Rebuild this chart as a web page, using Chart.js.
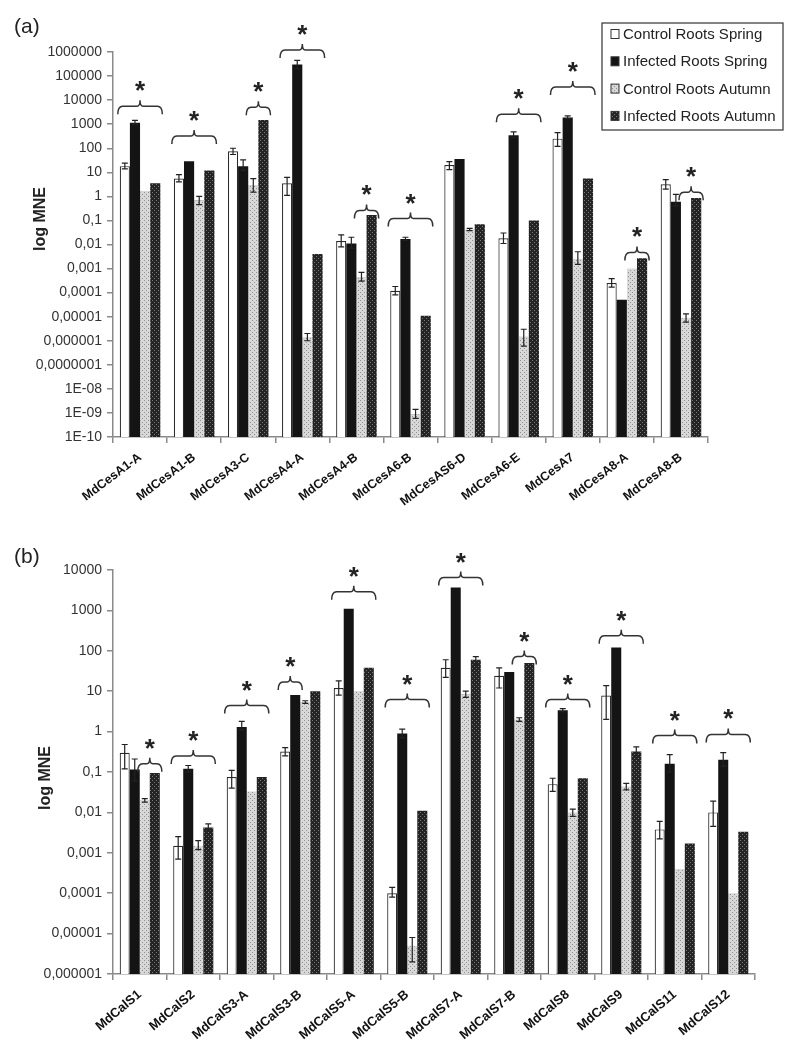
<!DOCTYPE html>
<html>
<head>
<meta charset="utf-8">
<script src="https://cdn.jsdelivr.net/npm/chart.js@4.4.1/dist/chart.umd.min.js"></script>
<style>
  body { margin: 0; background: #fff; }
  #wrap { position: relative; width: 800px; height: 1063px; }
  canvas { position: absolute; left: 0; }
</style>
</head>
<body>
<div id="wrap">
  <canvas id="chartA" width="800" height="540" style="top:0"></canvas>
  <canvas id="chartB" width="800" height="523" style="top:540px"></canvas>
</div>
<script>
// series names (same for both panels)
const seriesNames = ['Control Roots Spring', 'Infected Roots Spring', 'Control Roots Autumn', 'Infected Roots Autumn'];

// (a) cellulose synthases
const casLabels = ['MdCesA1-A', 'MdCesA1-B', 'MdCesA3-C', 'MdCesA4-A', 'MdCesA4-B', 'MdCesA6-B', 'MdCesAS6-D', 'MdCesA6-E', 'MdCesA7', 'MdCesA8-A', 'MdCesA8-B'];
const casCtrlSpring = [18, 5.5, 75, 3.5, 0.014, 0.00012, 20, 0.018, 250, 0.00025, 3.2];
const casInfSpring = [1150, 29, 18, 300000, 0.011, 0.017, 36, 350, 1900, 0.00005, 0.6];
const casCtrlAutumn = [1.7, 0.7, 3, 1.4e-6, 0.00045, 9e-10, 0.042, 1.5e-6, 0.0025, 0.001, 9e-6];
const casInfAutumn = [3.5, 12, 1500, 0.004, 0.17, 1.1e-5, 0.07, 0.1, 5.5, 0.0027, 0.85];
// error bars as [low, high], null = none visible
const casCtrlSpringErr = [[14, 24], [4, 8], [55, 100], [1.1, 6.2], [0.008, 0.025], [0.00008, 0.00018], [13, 28], [0.011, 0.03], [120, 450], [0.00017, 0.00038], [2, 5]];
const casInfSpringErr = [[1000, 1450], null, [12, 33], [200000, 450000], [0.007, 0.02], [0.015, 0.02], null, [280, 480], [1700, 2200], null, [0.4, 1.2]];
const casCtrlAutumnErr = [null, [0.45, 1.0], [1.5, 5.5], [1e-6, 2e-6], [0.0003, 0.0007], [6e-10, 1.4e-9], [0.038, 0.047], [6e-7, 3e-6], [0.0015, 0.005], null, [6e-6, 1.3e-5]];
const casInfAutumnErr = [null, null, null, null, null, null, null, null, null, null, null];
// significance brackets: [category, first bar, last bar, height]
const casBrackets = [[0, 0, 3, 5500], [1, 0, 3, 320], [2, 2, 3, 5000], [3, 0, 3, 1.2e6], [4, 2, 3, 0.26], [5, 0, 3, 0.12], [7, 0, 3, 2600], [8, 0, 3, 35000], [9, 2, 3, 0.0047], [10, 2, 3, 1.5]];
const casTicks = [1e-10, 1e-9, 1e-8, 1e-7, 1e-6, 1e-5, 1e-4, 1e-3, 1e-2, 1e-1, 1, 10, 100, 1000, 10000, 100000, 1000000];
const casTickLabels = ['1E-10', '1E-09', '1E-08', '0,0000001', '0,000001', '0,00001', '0,0001', '0,001', '0,01', '0,1', '1', '10', '100', '1000', '10000', '100000', '1000000'];

// (b) callose synthases
const calLabels = ['MdCalS1', 'MdCalS2', 'MdCalS3-A', 'MdCalS3-B', 'MdCalS5-A', 'MdCalS5-B', 'MdCalS7-A', 'MdCalS7-B', 'MdCalS8', 'MdCalS9', 'MdCalS11', 'MdCalS12'];
const calCtrlSpring = [0.3, 0.0015, 0.075, 0.32, 12, 0.0001, 38, 24, 0.05, 7.8, 0.0038, 0.01];
const calInfSpring = [0.115, 0.12, 1.3, 8, 1100, 0.9, 3700, 30, 3.4, 120, 0.16, 0.2];
const calCtrlAutumn = [0.02, 0.0015, 0.033, 5.5, 10, 5e-6, 8.5, 2, 0.01, 0.044, 0.0004, 0.0001];
const calInfAutumn = [0.095, 0.0042, 0.075, 10, 38, 0.011, 60, 50, 0.07, 0.32, 0.0017, 0.0033];
const calCtrlSpringErr = [[0.12, 0.48], [0.0007, 0.0025], [0.04, 0.11], [0.25, 0.4], [8, 18], [0.00008, 0.00014], [22, 60], [12, 38], [0.033, 0.07], [2, 13.8], [0.0022, 0.006], [0.0045, 0.019]];
const calInfSpringErr = [[0.06, 0.21], [0.1, 0.145], [1.1, 1.8], null, null, [0.7, 1.15], null, null, [3.1, 3.7], null, [0.1, 0.27], [0.14, 0.3]];
const calCtrlAutumnErr = [[0.018, 0.022], [0.0012, 0.002], null, [5, 5.8], null, [2e-6, 8e-6], [7, 10], [1.8, 2.2], [0.008, 0.012], [0.036, 0.052], null, null];
const calInfAutumnErr = [null, [0.0035, 0.0052], null, null, null, null, [45, 72], null, null, [0.25, 0.42], null, null];
const calBrackets = [[0, 2, 3, 0.16], [1, 0, 3, 0.25], [2, 0, 3, 4.4], [3, 0, 1, 17], [4, 0, 3, 2900], [5, 0, 3, 6.2], [6, 0, 3, 6500], [7, 2, 3, 72], [8, 0, 3, 6.2], [9, 0, 3, 237], [10, 0, 3, 0.8], [11, 0, 3, 0.85]];
const calTicks = [1e-6, 1e-5, 1e-4, 1e-3, 1e-2, 1e-1, 1, 10, 100, 1000, 10000];
const calTickLabels = ['0,000001', '0,00001', '0,0001', '0,001', '0,01', '0,1', '1', '10', '100', '1000', '10000'];

const FONT = "'Liberation Sans', Arial, sans-serif";
const AXIS = '#8a8a8a';
const INK = '#222';

function dotPattern(ctx, bg, fg) {
  const c = document.createElement('canvas');
  c.width = 4; c.height = 4;
  const g = c.getContext('2d');
  g.fillStyle = bg; g.fillRect(0, 0, 4, 4);
  g.fillStyle = fg; g.fillRect(0, 0, 1, 1); g.fillRect(2, 2, 1, 1);
  return ctx.createPattern(c, 'repeat');
}

function makeChart(id, cfg) {
  const ctx = document.getElementById(id).getContext('2d');
  const fills = ['#ffffff', '#141414', dotPattern(ctx, '#d8d8d8', '#8e8e8e'), dotPattern(ctx, '#242424', '#7a7a7a')];
  const borders = ['#2a2a2a', '#141414', '#b0b0b0', '#242424'];

  const extras = {
    id: 'extras',
    afterDatasetsDraw(chart) {
      const c = chart.ctx, y = chart.scales.y;
      c.save();
      c.strokeStyle = INK; c.lineWidth = 1.2;
      cfg.errors.forEach((errs, k) => {
        const bars = chart.getDatasetMeta(k).data;
        errs.forEach((e, i) => {
          if (!e) return;
          const x = bars[i].x, y1 = y.getPixelForValue(e[0]), y2 = y.getPixelForValue(e[1]);
          c.beginPath();
          c.moveTo(x, y1); c.lineTo(x, y2);
          c.moveTo(x - 3, y1); c.lineTo(x + 3, y1);
          c.moveTo(x - 3, y2); c.lineTo(x + 3, y2);
          c.stroke();
        });
      });
      c.restore();
    },
    afterDraw(chart) {
      const c = chart.ctx, y = chart.scales.y;
      c.save();
      // brackets + asterisks
      c.strokeStyle = '#333'; c.lineWidth = 1.5; c.fillStyle = INK;
      cfg.brackets.forEach(([cat, b0, b1, v]) => {
        const first = chart.getDatasetMeta(b0).data[cat], last = chart.getDatasetMeta(b1).data[cat];
        const x1 = first.x - first.width / 2 - 2, x2 = last.x + last.width / 2 + 2;
        const yy = y.getPixelForValue(v), cx = (x1 + x2) / 2;
        c.beginPath();
        c.moveTo(x1, yy + 8);
        c.quadraticCurveTo(x1, yy, x1 + 5, yy);
        c.lineTo(cx - 3, yy);
        c.quadraticCurveTo(cx, yy, cx, yy - 6);
        c.quadraticCurveTo(cx, yy, cx + 3, yy);
        c.lineTo(x2 - 5, yy);
        c.quadraticCurveTo(x2, yy, x2, yy + 8);
        c.stroke();
        c.font = 'bold 26px ' + FONT;
        c.textAlign = 'center'; c.textBaseline = 'alphabetic';
        const m = c.measureText('*');
        const mid = (m.actualBoundingBoxAscent - m.actualBoundingBoxDescent) / 2;
        c.fillText('*', cx, yy - 20 + mid);
      });
      // y title
      c.save();
      c.translate(cfg.yTitle[0], cfg.yTitle[1]);
      c.rotate(-Math.PI / 2);
      c.font = 'bold 16px ' + FONT;
      c.textAlign = 'center'; c.textBaseline = 'middle';
      c.fillText('log MNE', 0, 0);
      c.restore();
      // panel letter
      c.font = '21px ' + FONT;
      c.textAlign = 'left'; c.textBaseline = 'middle';
      c.fillText(cfg.panel[0], cfg.panel[1], cfg.panel[2]);
      // legend box
      if (cfg.legend) {
        const [lx, ly, lw, lh] = cfg.legend;
        c.strokeStyle = '#333'; c.lineWidth = 1.2;
        c.strokeRect(lx, ly, lw, lh);
        c.font = '15px ' + FONT;
        chart.data.datasets.forEach((ds, k) => {
          const cy = ly + 11 + k * 27.3;
          c.fillStyle = fills[k];
          c.fillRect(lx + 9, cy - 4.5, 8, 9);
          c.strokeStyle = '#333'; c.lineWidth = 1;
          c.strokeRect(lx + 9, cy - 4.5, 8, 9);
          c.fillStyle = INK;
          c.fillText(ds.label, lx + 21, cy + 1);
        });
      }
      c.restore();
    }
  };

  return new Chart(ctx, {
    type: 'bar',
    data: {
      labels: cfg.labels,
      datasets: cfg.series.map((s, k) => ({
        label: seriesNames[k],
        data: s,
        backgroundColor: fills[k],
        borderColor: borders[k],
        borderWidth: k === 0 ? 1.2 : (k === 2 ? 0.6 : 0),
        categoryPercentage: 0.75,
        barPercentage: 1.0
      }))
    },
    options: {
      responsive: false,
      animation: false,
      layout: { padding: { top: cfg.top, right: cfg.right, left: 0, bottom: 0 } },
      plugins: { legend: { display: false }, tooltip: { enabled: false } },
      scales: {
        x: {
          afterFit: s => { s.height = cfg.xHeight; },
          ticks: {
            autoSkip: false, minRotation: cfg.rot, maxRotation: cfg.rot, padding: 7,
            color: '#111', font: { family: FONT, size: cfg.xFont, weight: 'bold' }
          },
          grid: { drawOnChartArea: false, offset: true, tickLength: 6, color: AXIS, lineWidth: 1.5 },
          border: { color: AXIS, width: 1.5 }
        },
        y: {
          type: 'logarithmic',
          min: cfg.ticks[0],
          max: cfg.ticks[cfg.ticks.length - 1],
          afterBuildTicks: s => { s.ticks = cfg.ticks.map(v => ({ value: v })); },
          afterFit: s => { s.width = 113; },
          ticks: {
            autoSkip: false, padding: 5, color: '#333',
            font: { family: FONT, size: 14 },
            callback: (v, i) => cfg.tickLabels[i]
          },
          grid: { drawOnChartArea: false, tickLength: 6, color: AXIS, lineWidth: 1.5 },
          border: { color: AXIS, width: 1.5 }
        }
      }
    },
    plugins: [extras]
  });
}

makeChart('chartA', {
  labels: casLabels,
  series: [casCtrlSpring, casInfSpring, casCtrlAutumn, casInfAutumn],
  errors: [casCtrlSpringErr, casInfSpringErr, casCtrlAutumnErr, casInfAutumnErr],
  brackets: casBrackets,
  ticks: casTicks,
  tickLabels: casTickLabels,
  top: 52, right: 92, xHeight: 103, rot: 37, xFont: 12.5,
  yTitle: [41, 219],
  panel: ['(a)', 14, 27],
  legend: [602, 23, 181, 107]
});

makeChart('chartB', {
  labels: calLabels,
  series: [calCtrlSpring, calInfSpring, calCtrlAutumn, calInfAutumn],
  errors: [calCtrlSpringErr, calInfSpringErr, calCtrlAutumnErr, calInfAutumnErr],
  brackets: calBrackets,
  ticks: calTicks,
  tickLabels: calTickLabels,
  top: 30, right: 45, xHeight: 89, rot: 40, xFont: 13,
  yTitle: [46, 238],
  panel: ['(b)', 14, 17],
  legend: null
});
</script>
</body>
</html>
